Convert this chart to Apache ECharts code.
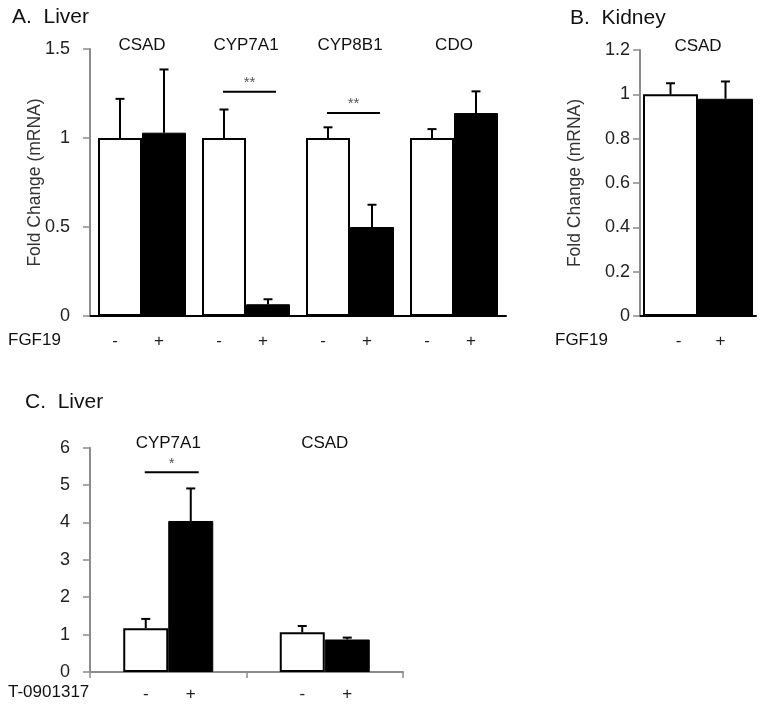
<!DOCTYPE html>
<html>
<head>
<meta charset="utf-8">
<script src="https://cdn.jsdelivr.net/npm/echarts@6/dist/echarts.min.js"></script>
<style>
html,body{margin:0;padding:0;background:#fff;}
#chart{width:764px;height:709px;}
</style>
</head>
<body>
<div id="chart"></div>
<script>
// ---- Data ----
const catsA = ['CSAD', 'CYP7A1', 'CYP8B1', 'CDO'];
const ctrlA = [1, 1, 1, 1];
const ctrlSemA = [0.22, 0.16, 0.06, 0.05];
const fgfA = [1.03, 0.066, 0.50, 1.14];
const fgfSemA = [0.355, 0.028, 0.125, 0.122];
const sigCatA = [1, 2];
const sigLevelA = [1.26, 1.14];
const sigTextA = ['**', '**'];

const catsB = ['CSAD'];
const ctrlB = [1];
const ctrlSemB = [0.05];
const fgfB = [0.98];
const fgfSemB = [0.078];

const catsC = ['CYP7A1', 'CSAD'];
const ctrlC = [1.17, 1.06];
const ctrlSemC = [0.25, 0.17];
const t09C = [4.04, 0.87];
const t09SemC = [0.87, 0.05];
const sigCatC = [0];
const sigLevelC = [5.34];
const sigTextC = ['*'];

const ticksA = {min: 0, max: 1.5, interval: 0.5};
const ticksB = {min: 0, max: 1.2, interval: 0.2};
const ticksC = {min: 0, max: 6, interval: 1};

// ---- Helpers ----
const FONT = '"Liberation Sans", Arial, sans-serif';
const GRAY = '#8c8c8c';

function errData(vals, sems) { return vals.map((v, i) => [i, v, sems[i]]); }
function sigData(cats, levels) { return cats.map((c, i) => [c, levels[i]]); }

function errSeries(ax, vals, sems, side, bw) {
  return {
    type: 'custom', xAxisIndex: ax.x, yAxisIndex: ax.y, z: 5,
    data: errData(vals, sems),
    encode: {x: 0, y: 1},
    silent: true,
    renderItem: function (params, api) {
      const i = api.value(0), v = api.value(1), e = api.value(2);
      const p0 = api.coord([i, v]);
      const p1 = api.coord([i, v + e]);
      const x = p0[0] + side * bw / 2;
      return {
        type: 'group',
        children: [
          {type: 'line', shape: {x1: x, y1: p0[1], x2: x, y2: p1[1]}, style: {stroke: '#000', lineWidth: 2}},
          {type: 'line', shape: {x1: x - 4.5, y1: p1[1], x2: x + 4.5, y2: p1[1]}, style: {stroke: '#000', lineWidth: 2}}
        ]
      };
    }
  };
}

function sigSeries(ax, cats, levels, texts, bw) {
  return {
    type: 'custom', xAxisIndex: ax.x, yAxisIndex: ax.y, z: 6,
    data: sigData(cats, levels),
    encode: {x: 0, y: 1},
    silent: true,
    renderItem: function (params, api) {
      const p = api.coord([api.value(0), api.value(1)]);
      const x1 = p[0] - bw / 2 - 1, x2 = p[0] + bw / 2 + 8;
      return {
        type: 'group',
        children: [
          {type: 'line', shape: {x1: x1, y1: p[1], x2: x2, y2: p[1]}, style: {stroke: '#000', lineWidth: 2}},
          {type: 'text', x: (x1 + x2) / 2, y: p[1] - 9,
           style: {text: texts[params.dataIndex], fill: '#555', font: '15px ' + FONT, align: 'center', verticalAlign: 'middle'}}
        ]
      };
    }
  };
}

function barPair(ax, vals1, vals2, bw, dist, off1, off2) {
  const lbl = (t, off) => ({show: true, position: 'bottom', distance: dist, formatter: t, fontSize: 17, color: '#222', fontFamily: FONT, offset: [off, 0]});
  return [
    {type: 'bar', xAxisIndex: ax.x, yAxisIndex: ax.y, data: vals1, barWidth: bw, barGap: '0%',
     itemStyle: {color: '#fff', borderColor: '#000', borderWidth: 2}, label: lbl('-', off1), silent: true},
    {type: 'bar', xAxisIndex: ax.x, yAxisIndex: ax.y, data: vals2, barWidth: bw, barGap: '0%',
     itemStyle: {color: '#000', borderColor: '#000', borderWidth: 1}, label: lbl('+', off2), silent: true}
  ];
}

function mainX(grid, cats, lineColor, ticks) {
  return {gridIndex: grid, type: 'category', data: cats, position: 'bottom',
    axisLine: {show: true, lineStyle: {color: lineColor, width: 2}},
    axisTick: {show: ticks, length: 6, lineStyle: {color: GRAY, width: 1.5}},
    axisLabel: {show: false}, splitLine: {show: false}};
}
function topX(grid, cats) {
  return {gridIndex: grid, type: 'category', data: cats, position: 'top',
    axisLine: {show: false}, axisTick: {show: false}, splitLine: {show: false},
    axisLabel: {show: true, fontSize: 17, color: '#111', fontFamily: FONT, margin: 4, verticalAlign: 'middle'}};
}
function yAx(grid, t, name, gap, margin) {
  return {gridIndex: grid, type: 'value', min: t.min, max: t.max, interval: t.interval,
    axisLine: {show: true, lineStyle: {color: GRAY, width: 2}},
    axisTick: {show: true, length: 7, lineStyle: {color: GRAY, width: 1.5}},
    splitLine: {show: false},
    axisLabel: {fontSize: 18, color: '#222', fontFamily: FONT, margin: margin},
    name: name, nameLocation: 'middle', nameGap: gap, nameMoveOverlap: false,
    nameTextStyle: {fontSize: 17.5, color: '#333', fontFamily: FONT}};
}

const titleStyle = (s) => ({fontSize: s, fontWeight: 'normal', color: '#111', fontFamily: FONT});

const axA = {x: 0, y: 0}, axB = {x: 2, y: 1}, axC = {x: 4, y: 2};
const bwA = 44, bwB = 55, bwC = 45;

const option = {
  backgroundColor: '#fff',
  animation: false,
  title: [
    {text: 'A.  Liver', left: 12, top: 7, padding: 0, textStyle: titleStyle(21)},
    {text: 'B.  Kidney', left: 570, top: 8, padding: 0, textStyle: titleStyle(21)},
    {text: 'C.  Liver', left: 25, top: 392, padding: 0, textStyle: titleStyle(21)},
    {text: 'FGF19', left: 8, top: 332, padding: 0, textStyle: titleStyle(17)},
    {text: 'FGF19', left: 555, top: 332, padding: 0, textStyle: titleStyle(17)},
    {text: 'T-0901317', left: 8, top: 684, padding: 0, textStyle: titleStyle(17)}
  ],
  grid: [
    {left: 90, top: 49, width: 416, height: 267},
    {left: 640, top: 50, width: 116, height: 266},
    {left: 90, top: 447.7, width: 313, height: 224.3}
  ],
  xAxis: [
    mainX(0, catsA, '#000', false), topX(0, catsA),
    mainX(1, catsB, '#000', false), topX(1, catsB),
    mainX(2, catsC, GRAY, true), topX(2, catsC)
  ],
  yAxis: [
    yAx(0, ticksA, 'Fold Change (mRNA)', 46, 20),
    yAx(1, ticksB, 'Fold Change (mRNA)', 56, 10),
    yAx(2, ticksC, '', 40, 20)
  ],
  series: [
    ...barPair(axA, ctrlA, fgfA, bwA, 17, -5, -5),
    errSeries(axA, ctrlA, ctrlSemA, -1, bwA),
    errSeries(axA, fgfA, fgfSemA, 1, bwA),
    sigSeries(axA, sigCatA, sigLevelA, sigTextA, bwA),

    ...barPair(axB, ctrlB, fgfB, bwB, 17, 8, -5),
    errSeries(axB, ctrlB, ctrlSemB, -1, bwB),
    errSeries(axB, fgfB, fgfSemB, 1, bwB),

    ...barPair(axC, ctrlC, t09C, bwC, 14, 0, 0),
    errSeries(axC, ctrlC, ctrlSemC, -1, bwC),
    errSeries(axC, t09C, t09SemC, 1, bwC),
    sigSeries(axC, sigCatC, sigLevelC, sigTextC, bwC)
  ]
};

const chart = echarts.init(document.getElementById('chart'), null, {renderer: 'canvas'});
chart.setOption(option);
</script>
</body>
</html>
